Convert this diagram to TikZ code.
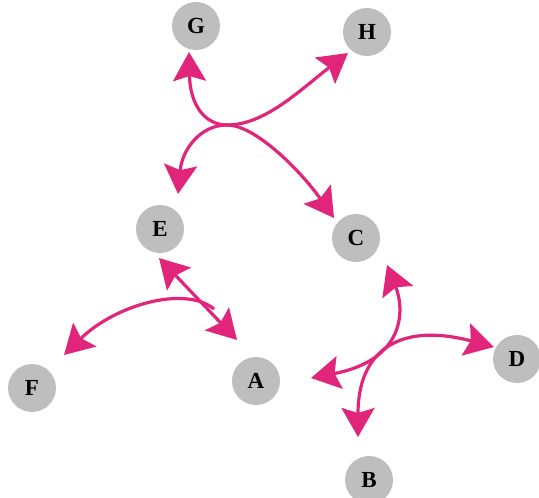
\documentclass[tikz,border=0pt]{standalone}
\usepackage{fontspec}
\setmainfont{Liberation Serif}
\usetikzlibrary{arrows.meta}
\definecolor{arrowpink}{HTML}{E0257A}
\definecolor{nodegray}{HTML}{BEBEBE}

\begin{document}
\begin{tikzpicture}[
  x=1pt, y=-1pt,
  >={Stealth[length=29pt, width=33pt, inset=5pt]},
  vertex/.style={circle, fill=nodegray, minimum size=48pt, inner sep=0pt,
    font=\fontsize{23}{26}\selectfont\bfseries},
  arr/.style={->, line width=3.2pt, color=arrowpink},
  dbl/.style={<->, line width=3.2pt, color=arrowpink}
]
\useasboundingbox (0,0) rectangle (539,498);

\node[vertex] (G) at (196,26) {G};
\node[vertex] (H) at (367,32) {H};
\node[vertex] (E) at (160,229) {E};
\node[vertex] (C) at (356,238) {C};
\node[vertex] (F) at (32,388) {F};
\node[vertex] (A) at (256,381) {A};
\node[vertex] (D) at (517,359) {D};
\node[vertex] (B) at (369,480) {B};

% upper pair
\coordinate (gtip) at (189,52);
\coordinate (htip) at (348,53);
\coordinate (etip) at (178,194);
\coordinate (ctip) at (334,218);
\coordinate (upmeet) at (227,125);
\draw[dbl] (gtip) .. controls (190,105) and (205,125) .. (upmeet)
  .. controls (265,125) and (300,90) .. (htip);
\draw[dbl] (etip) .. controls (182,150) and (200,125) .. (upmeet)
  .. controls (255,125) and (300,170) .. (ctip);

% E -- A and the branch to F
\coordinate (eatip) at (159,258);
\coordinate (aetip) at (237,340);
\coordinate (fstart) at (214,309);
\coordinate (ftip) at (64,355);
\draw[dbl] (eatip) -- (aetip);
\draw[arr] (fstart) .. controls (185,285) and (115,305) .. (ftip);

% lower pair
\coordinate (cbtip) at (387,265);
\coordinate (ltip) at (311,378);
\coordinate (dtip) at (494,347);
\coordinate (btip) at (358,437);
\draw[dbl] (cbtip) .. controls (405,310) and (405,360) .. (ltip);
\draw[dbl] (dtip) .. controls (400,322) and (358,350) .. (btip);
\end{tikzpicture}
\end{document}
